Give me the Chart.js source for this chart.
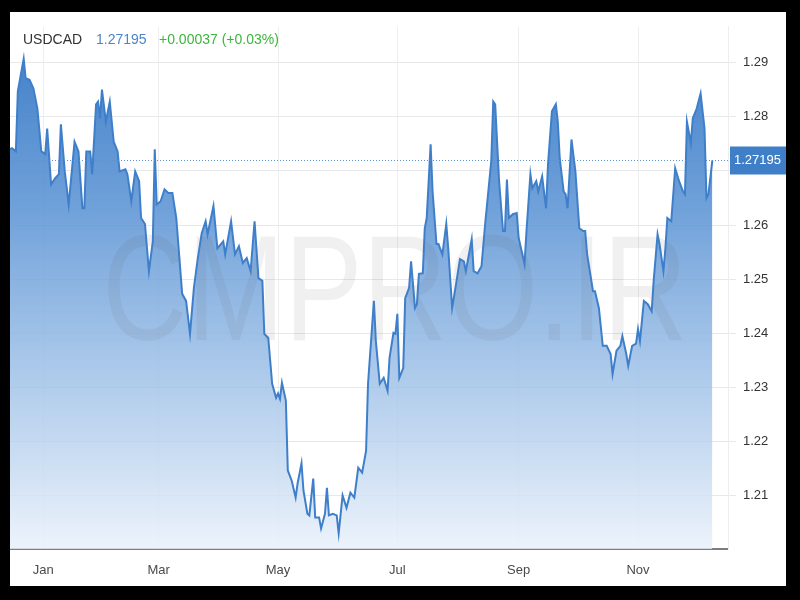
<!DOCTYPE html>
<html>
<head>
<meta charset="utf-8">
<script src="https://cdn.jsdelivr.net/npm/chart.js@4.4.0/dist/chart.umd.min.js"></script>
<style>
  html, body { margin: 0; padding: 0; background: #000; }
  #frame { position: absolute; left: 10px; top: 12px; width: 776px; height: 574px; background: #fff; overflow: hidden; }
  #chartBox { position: absolute; left: 0; top: 0; width: 776px; height: 574px; }
  .hd { position: absolute; top: 19px; font: 14px "Liberation Sans", Arial, sans-serif; white-space: nowrap; }
</style>
</head>
<body>
<div id="frame">
  <div id="chartBox"><canvas id="myChart"></canvas></div>
  <span class="hd" style="left:13px; color:#333;">USDCAD</span>
  <span class="hd" style="left:86px; color:#4a86c8;">1.27195</span>
  <span class="hd" style="left:149px; color:#3cb63c;">+0.00037 (+0.03%)</span>
</div>
<script>
// day of year (0 = Jan 1), negatives are last December
const days = [
  -17, -16, -14, -13, -10, -9, -7, -5, -3, -1, 1, 2, 4, 6, 8, 9, 11, 13, 16, 18,
  20, 21, 22, 24, 25, 27, 28, 29, 30, 32, 34, 36, 38, 39, 42, 43, 45, 47, 49, 50,
  52, 54, 56, 57, 58, 60, 62, 64, 66, 68, 71, 73, 75, 77, 79, 81, 83, 84, 87, 89,
  92, 93, 96, 98, 100, 102, 104, 106, 108, 110, 112, 113, 115, 117, 119, 120, 121, 122, 124, 125,
  127, 129, 130, 132, 133, 135, 136, 138, 139, 141, 142, 144, 145, 146, 148, 150, 151, 153, 155, 157,
  159, 161, 163, 165, 166, 169, 170, 172, 174, 176, 177, 179, 180, 181, 182, 184, 185, 187, 188, 190,
  191, 192, 194, 195, 196, 198, 199, 201, 202, 204, 206, 207, 209, 211, 213, 215, 216, 219, 220, 222,
  224, 226, 227, 229, 230, 231, 233, 235, 236, 237, 238, 240, 242, 243, 246, 247, 249, 250, 252, 253,
  255, 257, 258, 260, 262, 263, 264, 266, 267, 268, 270, 272, 274, 276, 277, 278, 281, 282, 284, 286,
  288, 290, 291, 293, 295, 296, 298, 299, 301, 303, 304, 305, 307, 309, 311, 312, 314, 315, 317, 318,
  319, 321, 323, 325, 327, 328, 329, 331, 332, 334, 336, 338, 339, 340, 342
]
const rates = [
  1.2740, 1.2742, 1.2736, 1.2847, 1.2907, 1.2871, 1.2868, 1.2852, 1.2815, 1.2736, 1.2731, 1.2778, 1.2675, 1.2686, 1.2694, 1.2786, 1.2699, 1.2638, 1.2754, 1.2736,
  1.2631, 1.2631, 1.2736, 1.2736, 1.2694, 1.2823, 1.2828, 1.2797, 1.2850, 1.2791, 1.2828, 1.2754, 1.2736, 1.2699, 1.2703, 1.2694, 1.2644, 1.2699, 1.2681, 1.2613,
  1.2602, 1.2515, 1.2570, 1.2740, 1.2638, 1.2644, 1.2666, 1.2659, 1.2659, 1.2613, 1.2473, 1.2460, 1.2399, 1.2484, 1.2539, 1.2585, 1.2607, 1.2583, 1.2635, 1.2557,
  1.2570, 1.2546, 1.2607, 1.2546, 1.2561, 1.2530, 1.2539, 1.2515, 1.2607, 1.2502, 1.2497, 1.2399, 1.2392, 1.2307, 1.2281, 1.2289, 1.2279, 1.2309, 1.2276, 1.2147,
  1.2128, 1.2097, 1.2123, 1.2160, 1.2110, 1.2067, 1.2064, 1.2132, 1.2060, 1.2060, 1.2040, 1.2067, 1.2115, 1.2064, 1.2067, 1.2064, 1.2031, 1.2101, 1.2078, 1.2106,
  1.2097, 1.2152, 1.2143, 1.2183, 1.2307, 1.2460, 1.2386, 1.2307, 1.2318, 1.2294, 1.2355, 1.2401, 1.2399, 1.2436, 1.2318, 1.2336, 1.2465, 1.2484, 1.2533, 1.2447,
  1.2454, 1.2510, 1.2511, 1.2594, 1.2613, 1.2749, 1.2662, 1.2565, 1.2565, 1.2546, 1.2602, 1.2557, 1.2447, 1.2491, 1.2537, 1.2533, 1.2515, 1.2574, 1.2515, 1.2511,
  1.2524, 1.2607, 1.2644, 1.2718, 1.2828, 1.2823, 1.2681, 1.2589, 1.2589, 1.2684, 1.2613, 1.2620, 1.2622, 1.2576, 1.2528, 1.2589, 1.2694, 1.2668, 1.2681, 1.2662,
  1.2690, 1.2631, 1.2712, 1.2810, 1.2823, 1.2791, 1.2723, 1.2662, 1.2657, 1.2631, 1.2758, 1.2699, 1.2594, 1.2589, 1.2589, 1.2546, 1.2478, 1.2478, 1.2447, 1.2377,
  1.2377, 1.2362, 1.2325, 1.2368, 1.2377, 1.2395, 1.2362, 1.2340, 1.2377, 1.2381, 1.2408, 1.2386, 1.2460, 1.2454, 1.2441, 1.2497, 1.2583, 1.2565, 1.2515, 1.2557,
  1.2613, 1.2607, 1.2705, 1.2681, 1.2662, 1.2657, 1.2791, 1.2751, 1.2797, 1.2815, 1.2843, 1.2778, 1.2650, 1.2657, 1.27195
]
const monthDays = [0, 59, 120, 181, 243, 304]
const monthLabels = ['Jan', 'Mar', 'May', 'Jul', 'Sep', 'Nov']
const yTicks = [1.21, 1.22, 1.23, 1.24, 1.25, 1.26, 1.27, 1.28, 1.29]
const lastPrice = 1.27195
const watermark = 'CMPRO.IR'

const fontFamily = '"Liberation Sans", Arial, sans-serif'
Chart.defaults.font.family = fontFamily
Chart.defaults.font.size = 13

const watermarkPlugin = {
  id: 'watermark',
  beforeDatasetDraw(chart) {
    const ctx = chart.ctx
    ctx.save()
    ctx.font = '150px ' + fontFamily
    ctx.fillStyle = 'rgba(90, 90, 90, 0.09)'
    ctx.textAlign = 'center'
    ctx.textBaseline = 'alphabetic'
    ctx.translate(385, 328)
    ctx.scale(0.78, 1)
    ctx.fillText(watermark, 0, 0)
    ctx.restore()
  }
}

const lastPricePlugin = {
  id: 'lastPrice',
  afterDatasetsDraw(chart) {
    const { ctx, chartArea, scales } = chart
    const y = Math.round(scales.y.getPixelForValue(lastPrice)) + 0.5
    ctx.save()
    ctx.strokeStyle = '#5b90d2'
    ctx.lineWidth = 1
    ctx.setLineDash([1, 2])
    ctx.beginPath()
    ctx.moveTo(chartArea.left, y)
    ctx.lineTo(chartArea.right + 2, y)
    ctx.stroke()
    ctx.setLineDash([])
    ctx.fillStyle = '#3f7fc8'
    ctx.fillRect(chartArea.right + 2, y - 14, 60, 28)
    ctx.fillStyle = '#ffffff'
    ctx.font = '13px ' + fontFamily
    ctx.textBaseline = 'middle'
    ctx.textAlign = 'left'
    ctx.fillText(lastPrice.toFixed(5), chartArea.right + 6, y)
    ctx.restore()
  }
}

const ctx = document.getElementById('myChart')

const chart = new Chart(ctx, {
  type: 'line',
  data: {
    datasets: [{
      label: 'USDCAD',
      data: days.map((d, i) => ({ x: d, y: rates[i] })),
      borderColor: '#3f7fca',
      borderWidth: 2,
      pointRadius: 0,
      tension: 0,
      fill: 'start',
      backgroundColor: (c) => {
        const area = c.chart.chartArea
        if (!area) return 'rgba(80, 140, 205, 0.7)'
        const g = c.chart.ctx.createLinearGradient(0, area.top, 0, area.bottom)
        g.addColorStop(0, 'rgba(50, 118, 196, 0.95)')
        g.addColorStop(0.35, 'rgba(92, 148, 212, 0.88)')
        g.addColorStop(0.7, 'rgba(160, 194, 232, 0.8)')
        g.addColorStop(1, 'rgba(232, 240, 250, 0.8)')
        return g
      }
    }]
  },
  options: {
    responsive: true,
    maintainAspectRatio: false,
    animation: false,
    layout: {
      padding: { left: 0, right: 0, top: 13, bottom: 0 }
    },
    plugins: {
      legend: { display: false },
      tooltip: { enabled: false },
      filler: { drawTime: 'beforeDatasetsDraw' }
    },
    scales: {
      x: {
        type: 'linear',
        min: -17,
        max: 350,
        afterBuildTicks: (s) => { s.ticks = monthDays.map(v => ({ value: v })) },
        afterFit: (s) => { s.height = 37 },
        ticks: {
          color: '#4a4a4a',
          padding: 14,
          maxRotation: 0,
          autoSkip: false,
          callback: (v) => monthLabels[monthDays.indexOf(v)]
        },
        grid: { color: '#eeeeee', drawTicks: false },
        border: { color: '#7d7d7d', width: 2 }
      },
      y: {
        position: 'right',
        min: 1.2002,
        max: 1.2966,
        afterBuildTicks: (s) => { s.ticks = yTicks.map(v => ({ value: v })) },
        afterFit: (s) => { s.width = 58 },
        ticks: {
          color: '#333',
          padding: 7,
          callback: (v) => v.toFixed(2)
        },
        grid: { color: '#e8e8e8', tickLength: 8 },
        border: { display: true, color: '#eeeeee' }
      }
    }
  },
  plugins: [watermarkPlugin, lastPricePlugin]
})
</script>
</body>
</html>
